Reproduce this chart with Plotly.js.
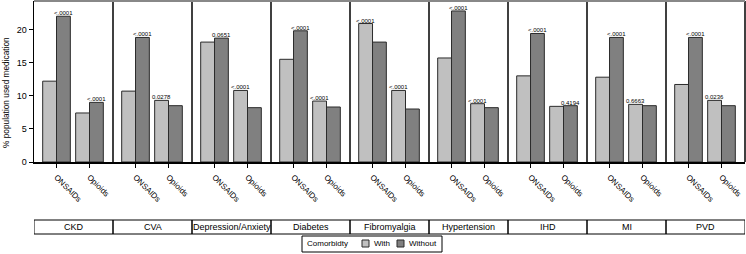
<!DOCTYPE html>
<html>
<head>
<meta charset="utf-8">
<script src="https://cdn.plot.ly/plotly-3.0.1.min.js"></script>
<style>html,body{margin:0;padding:0;background:#fff;}#chart{width:746px;height:254px;}</style>
</head>
<body>
<div id="chart"></div>
<script>
// ---- data ----
const panels = ['CKD','CVA','Depression/Anxiety','Diabetes','Fibromyalgia','Hypertension','IHD','MI','PVD'];
const meds = ['ONSAIDs','Opioids'];
// order: per panel, ONSAIDs then Opioids
const withVals    = [12.2, 7.4, 10.7, 9.3, 18.1, 10.8, 15.5, 9.2, 20.9, 10.8, 15.7, 8.8, 13.0, 8.4, 12.8, 8.7, 11.7, 9.3];
const withoutVals = [22.0, 9.0, 18.8, 8.5, 18.7, 8.2, 19.8, 8.3, 18.1, 8.0, 22.8, 8.2, 19.4, 8.5, 18.8, 8.5, 18.8, 8.5];
const pLabels     = ['<.0001','<.0001','<.0001','0.0278','0.0651','<.0001','<.0001','<.0001','<.0001','<.0001',
                     '<.0001','<.0001','<.0001','0.4194','<.0001','0.6663','<.0001','0.0236'];
const yTicks = [0, 5, 10, 15, 20];
const seriesNames = ['With', 'Without'];
const legendTitle = 'Comorbidty';
const yTitle = '% population used medication';

// ---- layout constants ----
const W = 746, H = 254, ML = 34, MR = 1, MT = 1, MB = 92;
const PW = W - ML - MR, PH = H - MT - MB;
const px2x = px => (px - ML) / PW;          // pixel -> paper x
const py2y = py => (MT + PH - py) / PH;     // pixel -> paper y
const medCenter = [0.285, 0.7025];
const barW = 0.175;
const FONT = 'Liberation Sans, Arial, sans-serif';
const colors = ['#c0c0c0', '#808080'];
const cEdge = '#2b2b2b';

const xs = [], tickText = [];
panels.forEach((p, pi) => meds.forEach((m, mi) => { xs.push(pi + medCenter[mi]); tickText.push(m); }));

const traces = [
  {type:'bar', name: seriesNames[0], x: xs, y: withVals, width: barW, offset: -barW,
   marker:{color: colors[0], line:{color: cEdge, width: 1}}, hoverinfo:'y'},
  {type:'bar', name: seriesNames[1], x: xs, y: withoutVals, width: barW, offset: 0,
   marker:{color: colors[1], line:{color: cEdge, width: 1}}, hoverinfo:'y'}
];

const annotations = [];
xs.forEach((x, i) => {
  const w = withVals[i], wo = withoutVals[i];
  annotations.push({x: x + (w > wo ? -barW/2 : barW/2), y: Math.max(w, wo), xref:'x', yref:'y',
    text: pLabels[i], showarrow:false, yanchor:'bottom', yshift:-2,
    font:{family: FONT, size: 6, color:'#000'}});
});

// panel boxes under the axis
const boxTop = py2y(220), boxBot = py2y(234);
const shapes = [];
panels.forEach((p, pi) => {
  shapes.push({type:'rect', xref:'x', yref:'paper', x0: pi, x1: pi + 1, y0: boxBot, y1: boxTop,
    line:{color:'#000', width:1}, fillcolor:'rgba(0,0,0,0)'});
  annotations.push({x: pi + 0.5, y: (boxTop + boxBot)/2, xref:'x', yref:'paper', text: p,
    showarrow:false, yanchor:'middle', font:{family: FONT, size: 9, color:'#000'}});
  if (pi > 0) shapes.push({type:'line', xref:'x', yref:'paper', x0: pi, x1: pi, y0: 0, y1: 1,
    line:{color:'#000', width:1.5}});
});
shapes.push({type:'line', xref:'paper', yref:'paper', x0:1, x1:1, y0:0, y1:1, line:{color:'#000', width:1.5}});
shapes.push({type:'line', xref:'paper', yref:'paper', x0:0, x1:1, y0:1, y1:1, line:{color:'#888', width:2}});

// y title as annotation (placed like the reference)
annotations.push({xref:'paper', yref:'paper', x: px2x(6), y: py2y(93), text: yTitle, textangle:-90,
  showarrow:false, xanchor:'center', yanchor:'middle', font:{family: FONT, size: 8.3, color:'#000'}});

// legend drawn as a framed key
const lgTop = py2y(236), lgBot = py2y(252), lgMid = (lgTop + lgBot) / 2;
shapes.push({type:'rect', xref:'paper', yref:'paper', x0: px2x(302), x1: px2x(442), y0: lgBot, y1: lgTop,
  line:{color:'#000', width:1}, fillcolor:'#fff'});
annotations.push({xref:'paper', yref:'paper', x: px2x(305), y: lgMid, text: legendTitle, showarrow:false,
  xanchor:'left', yanchor:'middle', font:{family: FONT, size: 8, color:'#000'}});
const swX = [362, 397], txX = [372, 407];
seriesNames.forEach((n, i) => {
  shapes.push({type:'rect', xref:'paper', yref:'paper', x0: px2x(swX[i]), x1: px2x(swX[i] + 7),
    y0: py2y(247), y1: py2y(240), line:{color: cEdge, width:1}, fillcolor: colors[i]});
  annotations.push({xref:'paper', yref:'paper', x: px2x(txX[i]), y: lgMid, text: n, showarrow:false,
    xanchor:'left', yanchor:'middle', font:{family: FONT, size: 8, color:'#000'}});
});

const layout = {
  width: W, height: H,
  margin: {l: ML, r: MR, t: MT, b: MB},
  paper_bgcolor:'#fff', plot_bgcolor:'#fff',
  barmode:'overlay',
  showlegend: false,
  font:{family: FONT, size: 9, color:'#000'},
  xaxis: {range:[0, panels.length], tickvals: xs, ticktext: tickText, tickangle: 45,
    ticks:'outside', ticklen: 4, tickcolor:'#000', showline:true, linecolor:'#000', linewidth:1.5,
    showgrid:false, zeroline:false, ticklabelstandoff: 2, automargin:false,
    tickfont:{family: FONT, size: 8, color:'#000'}, fixedrange:true},
  yaxis: {range:[0, 24.3], tickvals: yTicks, ticks:'outside', ticklen: 4, tickcolor:'#000',
    showline:true, linecolor:'#000', linewidth:1.5, showgrid:false, zeroline:false, automargin:false,
    tickfont:{family: FONT, size: 9, color:'#000'}},
  shapes: shapes,
  annotations: annotations
};

Plotly.newPlot('chart', traces, layout, {displayModeBar:false, staticPlot:true});
</script>
</body>
</html>
